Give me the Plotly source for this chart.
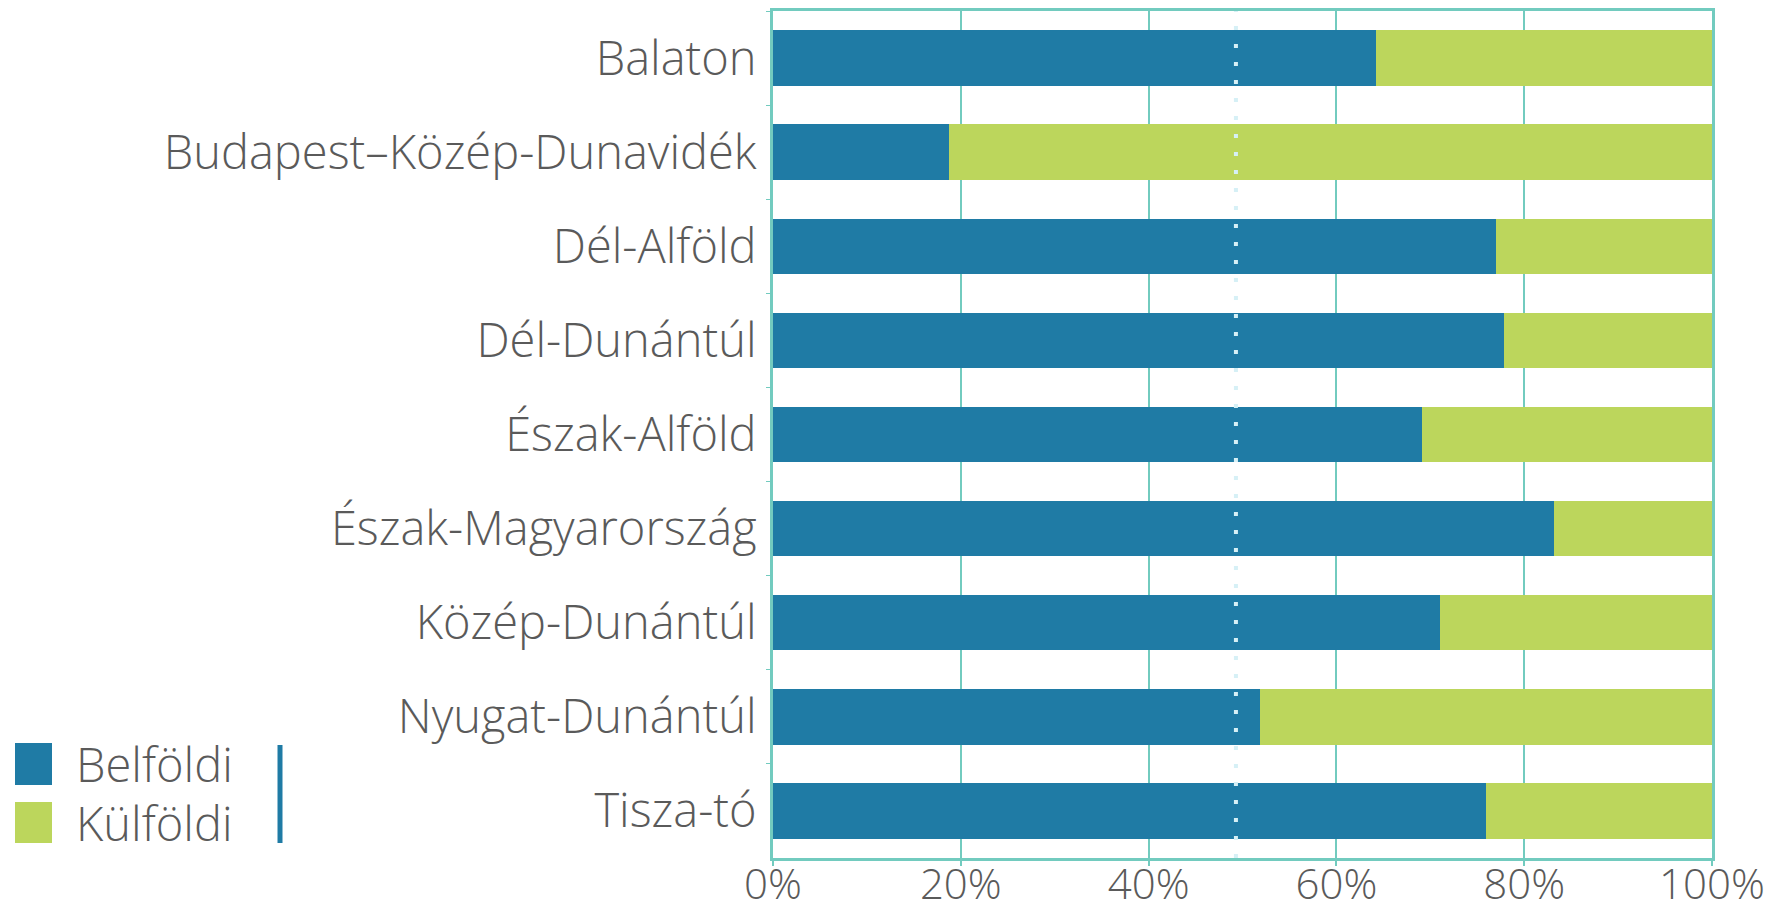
import plotly.graph_objects as go

categories = ["Balaton", "Budapest–Közép-Dunavidék", "Dél-Alföld", "Dél-Dunántúl",
              "Észak-Alföld", "Észak-Magyarország", "Közép-Dunántúl",
              "Nyugat-Dunántúl", "Tisza-tó"]
belfoldi = [64.2, 18.7, 77.0, 77.9, 69.1, 83.2, 71.0, 51.9, 75.9]
kulfoldi = [round(100 - v, 1) for v in belfoldi]
avg_line = 49.3
x_ticks = [0, 20, 40, 60, 80, 100]
x_tick_labels = ["0%", "20%", "40%", "60%", "80%", "100%"]
series_names = ["Belföldi", "Külföldi"]

BLUE = "#1f7ba5"
GREEN = "#bcd65c"
TEAL = "#72cbbf"
TEXT = "#5a5a5a"
FONT = "Open Sans"
FS = 47
FSX = 42

# plot area in page pixels
PL, PR, PT, PB = 773, 1712, 11, 858
OFF = 8  # page body margin
W, H = 1789, 914
PW, PH = PR - PL, PB - PT


def px(x):
    return (x - PL) / PW


def py(y):
    return (PB - y) / PH


fig = go.Figure()
fig.add_trace(go.Bar(y=categories, x=belfoldi, orientation="h", name=series_names[0],
                     marker=dict(color=BLUE, line=dict(width=0))))
fig.add_trace(go.Bar(y=categories, x=kulfoldi, orientation="h", name=series_names[1],
                     marker=dict(color=GREEN, line=dict(width=0))))

fig.update_layout(
    width=W, height=H,
    barmode="stack", bargap=0.41,
    showlegend=False,
    plot_bgcolor="white", paper_bgcolor="white",
    margin=dict(l=PL - OFF, r=W - (PR - OFF), t=PT - OFF, b=H - (PB - OFF)),
    font=dict(family=FONT, size=FS, color=TEXT, weight=300),
    xaxis=dict(range=[0, 100], tickvals=x_ticks, ticktext=x_tick_labels,
               automargin=False,
               showgrid=True, gridcolor=TEAL, gridwidth=2,
               zeroline=False, showline=True, linecolor=TEAL, linewidth=3,
               mirror=True, ticks="outside", ticklen=5, tickcolor=TEAL, tickwidth=2,
               ticklabelstandoff=-17,
               tickfont=dict(family=FONT, size=FSX, color=TEXT, weight=300)),
    yaxis=dict(autorange="reversed", showgrid=False, zeroline=False, automargin=False,
               showline=True, linecolor=TEAL, linewidth=3, mirror=True,
               ticks="outside", ticklen=4, tickcolor=TEAL, tickson="boundaries",
               ticklabelstandoff=4,
               tickfont=dict(family=FONT, size=FS, color=TEXT, weight=300)),
)

# dotted reference line
fig.add_shape(type="line", xref="x", yref="paper", x0=avg_line, x1=avg_line, y0=0, y1=1,
              line=dict(color="#d6f0f6", width=4, dash="4px,14px"), layer="above")

# manual legend
colors = [BLUE, GREEN]
legend_rows = [(743, 785), (802, 843)]
for (top, bot), col, name in zip(legend_rows, colors, series_names):
    fig.add_shape(type="rect", xref="paper", yref="paper",
                  x0=px(15), x1=px(52), y0=py(bot), y1=py(top),
                  fillcolor=col, line=dict(width=0), layer="above")
    fig.add_annotation(xref="paper", yref="paper",
                       x=px(74), y=py((top + bot) / 2),
                       text=name, showarrow=False, xanchor="left", yanchor="middle",
                       font=dict(family=FONT, size=FS, color=TEXT, weight=300))
fig.add_shape(type="line", xref="paper", yref="paper",
              x0=px(280), x1=px(280), y0=py(843), y1=py(745),
              line=dict(color=BLUE, width=5), layer="above")

fig.write_html("out.html")
